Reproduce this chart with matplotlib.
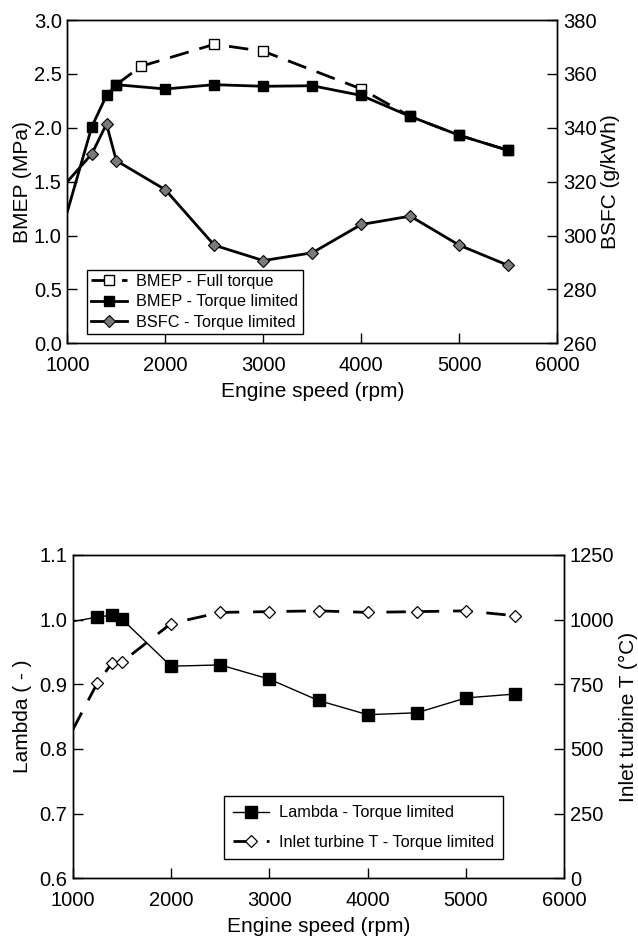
import matplotlib
matplotlib.use("Agg")
import matplotlib.pyplot as plt

plt.rcParams['font.family'] = ['Liberation Sans', 'DejaVu Sans']

# ---- data: top chart ----
rpm_full = [1500, 1750, 2500, 3000, 4000, 4500, 5000, 5500]
bmep_full = [2.40, 2.57, 2.775, 2.71, 2.36, 2.105, 1.93, 1.79]

rpm_lim = [1000, 1250, 1400, 1500, 2000, 2500, 3000, 3500, 4000, 4500, 5000, 5500]
bmep_lim = [1.22, 2.01, 2.30, 2.40, 2.36, 2.40, 2.385, 2.39, 2.30, 2.105, 1.93, 1.79]
bsfc_lim = [320.0, 330.3, 341.4, 327.8, 317.0, 296.4, 290.7, 293.6, 304.1, 307.2, 296.4, 288.9]

# ---- data: bottom chart ----
lambda_lim = [0.997, 1.004, 1.007, 1.001, 0.928, 0.930, 0.908, 0.875, 0.853, 0.856, 0.879, 0.885]
tturb_lim = [574, 755, 832, 836, 985, 1028, 1031, 1034, 1028, 1031, 1034, 1015]

xticks = [1000, 2000, 3000, 4000, 5000, 6000]

fig = plt.figure(figsize=(6.38, 9.40), dpi=100)

TICK_FS = 14.5
LABEL_FS = 15
LEG_FS = 11.7


def style_axes(ax, ax2):
    for a in (ax, ax2):
        for s in a.spines.values():
            s.set_linewidth(1.0)
    ax.tick_params(axis='y', direction='in', length=7, width=1, labelsize=TICK_FS,
                   right=False, pad=4)
    ax.tick_params(axis='x', direction='in', length=7, width=1, labelsize=TICK_FS,
                   top=False, pad=9)
    ax2.tick_params(axis='y', direction='in', length=7, width=1, labelsize=TICK_FS, pad=4)


# ================= TOP =================
ax = fig.add_axes([0.1055, 0.6348, 0.768, 0.3439])
ax2 = ax.twinx()

l1, = ax.plot(rpm_full, bmep_full, color='black', lw=2, dashes=(7, 4),
              marker='s', markersize=7.5, markerfacecolor='white', markeredgecolor='black',
              markeredgewidth=1, label='BMEP - Full torque', zorder=3)
l2, = ax.plot(rpm_lim, bmep_lim, color='black', lw=2, marker='s', markersize=7.5,
              markerfacecolor='black', markeredgecolor='black', markevery=list(range(1, len(rpm_lim))),
              label='BMEP - Torque limited', zorder=4)
l3, = ax2.plot(rpm_lim, bsfc_lim, color='black', lw=2, marker='D', markersize=6,
               markerfacecolor='#7a7a7a', markeredgecolor='black', markeredgewidth=0.8,
               markevery=list(range(1, len(rpm_lim))), label='BSFC - Torque limited')

ax.set_xlim(1000, 6000)
ax.set_ylim(0, 3.0)
ax.set_yticks([0.0, 0.5, 1.0, 1.5, 2.0, 2.5, 3.0])
ax.set_yticklabels(['0.0', '0.5', '1.0', '1.5', '2.0', '2.5', '3.0'])
ax.set_xticks(xticks)
ax2.set_ylim(260, 380)
ax2.set_yticks([260, 280, 300, 320, 340, 360, 380])
ax.set_xlabel('Engine speed (rpm)', fontsize=LABEL_FS, labelpad=5)
ax.set_ylabel('BMEP (MPa)', fontsize=LABEL_FS, labelpad=1)
ax2.set_ylabel('BSFC (g/kWh)', fontsize=LABEL_FS, labelpad=3)
style_axes(ax, ax2)

leg = ax2.legend(handles=[l1, l2, l3], loc='lower left', bbox_to_anchor=(0.04, 0.028),
                 borderaxespad=0, fontsize=LEG_FS, frameon=True, fancybox=False,
                 edgecolor='black', framealpha=1, numpoints=1, handlelength=2.2,
                 handletextpad=0.6, labelspacing=0.35, borderpad=0.25)
leg.get_frame().set_linewidth(1.0)

# ================= BOTTOM =================
bx = fig.add_axes([0.114, 0.0656, 0.7705, 0.344])
bx2 = bx.twinx()

m1, = bx.plot(rpm_lim, lambda_lim, color='black', lw=1, marker='s', markersize=8.3,
              markerfacecolor='black', markeredgecolor='black',
              markevery=list(range(1, len(rpm_lim))), label='Lambda - Torque limited', zorder=4)
m2, = bx2.plot(rpm_lim, tturb_lim, color='black', lw=2, dashes=(7, 5), marker='D', markersize=6,
               markerfacecolor='white', markeredgecolor='black', markeredgewidth=0.9,
               markevery=list(range(1, len(rpm_lim))), label='Inlet turbine T - Torque limited')

bx.set_xlim(1000, 6000)
bx.set_ylim(0.6, 1.1)
bx.set_yticks([0.6, 0.7, 0.8, 0.9, 1.0, 1.1])
bx.set_yticklabels(['0.6', '0.7', '0.8', '0.9', '1.0', '1.1'])
bx.set_xticks(xticks)
bx2.set_ylim(0, 1250)
bx2.set_yticks([0, 250, 500, 750, 1000, 1250])
bx.set_xlabel('Engine speed (rpm)', fontsize=LABEL_FS, labelpad=5)
bx.set_ylabel('Lambda ( - )', fontsize=LABEL_FS, labelpad=5)
bx2.set_ylabel('Inlet turbine T (°C)', fontsize=LABEL_FS, labelpad=3)
style_axes(bx, bx2)

leg2 = bx2.legend(handles=[m1, m2], loc='lower left', bbox_to_anchor=(0.308, 0.06),
                  borderaxespad=0, fontsize=LEG_FS, frameon=True, fancybox=False,
                  edgecolor='black', framealpha=1, numpoints=1, handlelength=2.2,
                  handletextpad=0.6, labelspacing=0.9, borderpad=0.55)
leg2.get_frame().set_linewidth(1.0)

fig.savefig('out.png', dpi=100)
